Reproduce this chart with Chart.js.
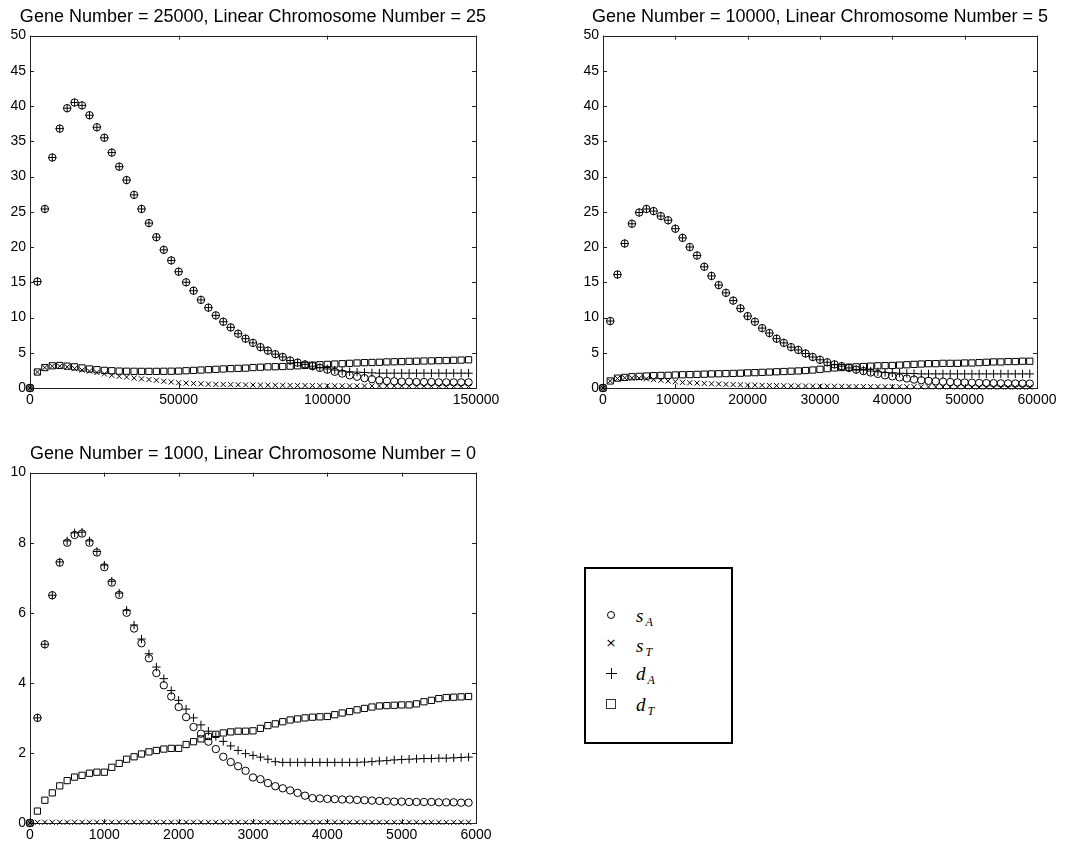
<!DOCTYPE html>
<html>
<head>
<meta charset="utf-8">
<script src="https://cdn.jsdelivr.net/npm/chart.js@4.4.1/dist/chart.umd.min.js"></script>
<style>
body { margin: 0; background: #fff; width: 1078px; height: 847px; overflow: hidden; position: relative; }
canvas { position: absolute; }
#c1 { left: 0; top: 0; }
#c2 { left: 573px; top: 0; }
#c3 { left: 0; top: 437px; }
#key { position: absolute; left: 584px; top: 567px; width: 145px; height: 173px; border: 2px solid #000; }
#key .row { position: absolute; left: 0; width: 100%; height: 20px; }
#key .mk { position: absolute; box-sizing: border-box; }
#key .circ { left: 21px; top: 6px; width: 8px; height: 8px; border: 1px solid #000; border-radius: 50%; }
#key .sq { left: 20px; top: 5px; width: 10px; height: 10px; border: 1px solid #333; }
#key .plus { left: 20px; top: 5px; width: 11px; height: 11px; }
#key .plus::before { content: ""; position: absolute; left: 5px; top: 0; width: 1px; height: 11px; background: #000; }
#key .plus::after { content: ""; position: absolute; left: 0; top: 5px; width: 11px; height: 1px; background: #000; }
#key .txt { position: absolute; left: 19px; top: 0; width: 12px; text-align: center; line-height: 20px; font: 13px "DejaVu Sans"; color: #000; }
#key .lb { position: absolute; left: 50px; top: 0; line-height: 20px; font: italic 19px "Liberation Serif"; color: #000; }
#key .lb sub { font-size: 12px; vertical-align: -4px; line-height: 0; margin-left: 2px; }
</style>
</head>
<body>
<canvas id="c1" width="506" height="420"></canvas>
<canvas id="c2" width="494" height="420"></canvas>
<canvas id="c3" width="506" height="410"></canvas>

<div id="key">
  <div class="row" style="top:36px"><span class="mk circ"></span><span class="lb">s<sub>A</sub></span></div>
  <div class="row" style="top:66px"><span class="txt">&times;</span><span class="lb">s<sub>T</sub></span></div>
  <div class="row" style="top:94px"><span class="mk plus"></span><span class="lb">d<sub>A</sub></span></div>
  <div class="row" style="top:125px"><span class="mk sq"></span><span class="lb">d<sub>T</sub></span></div>
</div>

<script>
// sampling step of each run (x = index * step)
var step1 = 2500, step2 = 1000, step3 = 100;

// Gene Number = 25000, Linear Chromosome Number = 25
var sA1 = [0, 15.1, 25.4, 32.7, 36.8, 39.7, 40.5, 40.1, 38.7, 37.0,
  35.5, 33.4, 31.4, 29.5, 27.4, 25.4, 23.4, 21.4, 19.6, 18.1,
  16.5, 15.0, 13.8, 12.5, 11.4, 10.3, 9.4, 8.6, 7.7, 7.0,
  6.4, 5.8, 5.3, 4.8, 4.4, 3.9, 3.6, 3.35, 3.1, 2.85,
  2.6, 2.3, 2.05, 1.8, 1.6, 1.4, 1.25, 1.1, 1.0, 0.95,
  0.9, 0.9, 0.85, 0.85, 0.85, 0.8, 0.8, 0.8, 0.8, 0.8];
var sT1 = [0, 2.27, 2.9, 3.1, 3.1, 3.0, 2.75, 2.55, 2.4, 2.2,
  2.0, 1.8, 1.65, 1.55, 1.4, 1.3, 1.2, 1.1, 0.95, 0.85,
  0.75, 0.7, 0.65, 0.6, 0.55, 0.52, 0.5, 0.48, 0.46, 0.44,
  0.42, 0.41, 0.4, 0.39, 0.38, 0.37, 0.36, 0.35, 0.34, 0.33,
  0.32, 0.31, 0.31, 0.3, 0.3, 0.29, 0.29, 0.28, 0.28, 0.27,
  0.27, 0.26, 0.26, 0.25, 0.25, 0.24, 0.24, 0.23, 0.23, 0.22];
var dA1 = [0, 15.1, 25.4, 32.7, 36.8, 39.7, 40.5, 40.1, 38.7, 37.0,
  35.5, 33.4, 31.4, 29.5, 27.4, 25.4, 23.4, 21.4, 19.6, 18.1,
  16.5, 15.0, 13.8, 12.5, 11.4, 10.3, 9.4, 8.6, 7.7, 7.0,
  6.4, 5.8, 5.3, 4.8, 4.4, 3.9, 3.6, 3.35, 3.1, 2.9,
  2.7, 2.55, 2.4, 2.3, 2.25, 2.2, 2.15, 2.1, 2.1, 2.1,
  2.1, 2.1, 2.1, 2.1, 2.1, 2.1, 2.1, 2.1, 2.1, 2.1];
var dT1 = [0, 2.27, 2.9, 3.15, 3.2, 3.1, 3.0, 2.85, 2.7, 2.6,
  2.5, 2.45, 2.4, 2.38, 2.37, 2.36, 2.36, 2.36, 2.37, 2.38,
  2.4, 2.45, 2.5, 2.55, 2.6, 2.65, 2.7, 2.75, 2.78, 2.82,
  2.9, 2.95, 3.0, 3.02, 3.05, 3.1, 3.15, 3.2, 3.25, 3.3,
  3.35, 3.4, 3.45, 3.5, 3.55, 3.6, 3.62, 3.65, 3.7, 3.72,
  3.75, 3.78, 3.8, 3.83, 3.85, 3.88, 3.9, 3.93, 3.96, 4.0];

// Gene Number = 10000, Linear Chromosome Number = 5
var sA2 = [0, 9.5, 16.1, 20.5, 23.3, 24.9, 25.4, 25.1, 24.4, 23.8,
  22.6, 21.3, 20.0, 18.8, 17.2, 15.9, 14.6, 13.5, 12.4, 11.3,
  10.2, 9.4, 8.5, 7.8, 7.0, 6.4, 5.8, 5.4, 4.9, 4.4,
  4.0, 3.65, 3.35, 3.1, 2.85, 2.6, 2.4, 2.2, 2.0, 1.8,
  1.65, 1.5, 1.35, 1.2, 1.1, 1.02, 0.95, 0.9, 0.85, 0.8,
  0.78, 0.75, 0.72, 0.7, 0.68, 0.66, 0.65, 0.64, 0.63, 0.62];
var sT2 = [0, 1.0, 1.35, 1.45, 1.45, 1.4, 1.3, 1.2, 1.1, 1.0,
  0.9, 0.8, 0.75, 0.7, 0.65, 0.6, 0.56, 0.52, 0.48, 0.45,
  0.42, 0.4, 0.38, 0.36, 0.34, 0.32, 0.3, 0.29, 0.28, 0.27,
  0.26, 0.25, 0.24, 0.23, 0.22, 0.21, 0.2, 0.2, 0.19, 0.19,
  0.18, 0.18, 0.17, 0.17, 0.16, 0.16, 0.15, 0.15, 0.15, 0.14,
  0.14, 0.14, 0.13, 0.13, 0.13, 0.13, 0.12, 0.12, 0.12, 0.12];
var dA2 = [0, 9.5, 16.1, 20.5, 23.3, 24.9, 25.4, 25.1, 24.4, 23.8,
  22.6, 21.3, 20.0, 18.8, 17.2, 15.9, 14.6, 13.5, 12.4, 11.3,
  10.2, 9.4, 8.5, 7.8, 7.0, 6.4, 5.8, 5.4, 4.9, 4.4,
  4.0, 3.65, 3.35, 3.1, 2.85, 2.6, 2.55, 2.4, 2.3, 2.2,
  2.15, 2.1, 2.07, 2.05, 2.0, 2.0, 2.0, 2.0, 2.0, 2.0,
  2.0, 2.0, 2.0, 2.0, 2.0, 2.0, 2.0, 2.0, 2.0, 2.0];
var dT2 = [0, 1.0, 1.4, 1.5, 1.6, 1.65, 1.7, 1.75, 1.78, 1.8,
  1.85, 1.88, 1.9, 1.93, 1.96, 2.0, 2.02, 2.05, 2.07, 2.1,
  2.15, 2.18, 2.22, 2.26, 2.3, 2.34, 2.38, 2.42, 2.48, 2.55,
  2.65, 2.75, 2.85, 2.9, 2.95, 3.0, 3.05, 3.1, 3.15, 3.17,
  3.2, 3.25, 3.3, 3.35, 3.4, 3.45, 3.45, 3.5, 3.5, 3.5,
  3.55, 3.55, 3.6, 3.65, 3.7, 3.7, 3.75, 3.75, 3.8, 3.8];

// Gene Number = 1000, Linear Chromosome Number = 0
var sA3 = [0, 3.0, 5.1, 6.5, 7.43, 8.0, 8.22, 8.26, 8.0, 7.72,
  7.3, 6.86, 6.51, 6.0, 5.55, 5.13, 4.7, 4.28, 3.93, 3.61,
  3.31, 3.02, 2.74, 2.55, 2.32, 2.11, 1.89, 1.74, 1.62, 1.49,
  1.3, 1.25, 1.14, 1.05, 0.99, 0.93, 0.86, 0.78, 0.71, 0.70,
  0.69, 0.68, 0.67, 0.67, 0.66, 0.65, 0.64, 0.63, 0.62, 0.61,
  0.61, 0.6, 0.6, 0.6, 0.6, 0.59, 0.59, 0.59, 0.58, 0.58];
var sT3 = [0, 0.02, 0.02, 0.02, 0.02, 0.02, 0.02, 0.02, 0.02, 0.02,
  0.02, 0.02, 0.02, 0.02, 0.02, 0.02, 0.02, 0.02, 0.02, 0.02,
  0.02, 0.02, 0.02, 0.02, 0.02, 0.02, 0.02, 0.02, 0.02, 0.02,
  0.02, 0.02, 0.02, 0.02, 0.02, 0.02, 0.02, 0.02, 0.02, 0.02,
  0.02, 0.02, 0.02, 0.02, 0.02, 0.02, 0.02, 0.02, 0.02, 0.02,
  0.02, 0.02, 0.02, 0.02, 0.02, 0.02, 0.02, 0.02, 0.02, 0.02];
var dA3 = [0, 3.0, 5.1, 6.5, 7.45, 8.05, 8.28, 8.3, 8.05, 7.75,
  7.36, 6.9, 6.56, 6.07, 5.65, 5.25, 4.83, 4.45, 4.12, 3.78,
  3.5, 3.25, 3.0, 2.8, 2.62, 2.47, 2.33, 2.2, 2.07, 1.98,
  1.93, 1.88, 1.82, 1.75, 1.73, 1.73, 1.73, 1.73, 1.73, 1.73,
  1.73, 1.73, 1.73, 1.73, 1.73, 1.74, 1.75, 1.77, 1.78, 1.8,
  1.81, 1.82, 1.83, 1.84, 1.84, 1.85, 1.85, 1.86, 1.87, 1.88];
var dT3 = [0, 0.34, 0.65, 0.86, 1.06, 1.21, 1.31, 1.36, 1.42, 1.45,
  1.45, 1.59, 1.70, 1.82, 1.89, 1.97, 2.03, 2.07, 2.11, 2.13,
  2.13, 2.24, 2.32, 2.40, 2.47, 2.53, 2.57, 2.60, 2.62, 2.62,
  2.63, 2.70, 2.78, 2.83, 2.89, 2.94, 2.97, 3.0, 3.02, 3.03,
  3.04, 3.09, 3.14, 3.18, 3.23, 3.27, 3.31, 3.34, 3.35, 3.36,
  3.37, 3.37, 3.40, 3.46, 3.5, 3.55, 3.58, 3.59, 3.60, 3.61];

// tick labels
var xTicks1 = [0, 50000, 100000, 150000];
var xTicks2 = [0, 10000, 20000, 30000, 40000, 50000, 60000];
var xTicks3 = [0, 1000, 2000, 3000, 4000, 5000, 6000];
var yTicks1 = [0, 5, 10, 15, 20, 25, 30, 35, 40, 45, 50];
var yTicks3 = [0, 2, 4, 6, 8, 10];

var FONT = 'Liberation Sans';

// box round the plot + inward ticks (matlab look)
var framePlugin = {
  id: 'frame',
  beforeDatasetsDraw: function (chart) {
    var ctx = chart.ctx, a = chart.chartArea, sx = chart.scales.x, sy = chart.scales.y;
    ctx.save();
    ctx.strokeStyle = '#222';
    ctx.lineWidth = 1;
    ctx.beginPath();
    sx.ticks.forEach(function (t) {
      var px = Math.round(sx.getPixelForValue(t.value)) + 0.5;
      ctx.moveTo(px, a.bottom); ctx.lineTo(px, a.bottom - 4);
      ctx.moveTo(px, a.top); ctx.lineTo(px, a.top + 4);
    });
    sy.ticks.forEach(function (t) {
      var py = Math.round(sy.getPixelForValue(t.value)) + 0.5;
      ctx.moveTo(a.left, py); ctx.lineTo(a.left + 4, py);
      ctx.moveTo(a.right, py); ctx.lineTo(a.right - 4, py);
    });
    ctx.stroke();
    ctx.strokeRect(Math.round(a.left) + 0.5, Math.round(a.top) + 0.5, Math.round(a.width), Math.round(a.height));
    ctx.restore();
  }
};

function points(step, vals) {
  return vals.map(function (v, i) { return { x: i * step, y: v }; });
}

function makeChart(id, title, step, sA, sT, dA, dT, xMax, xTicks, yMax, yTicks, xAxisH) {
  var ctx = document.getElementById(id).getContext('2d');
  var base = { showLine: false, borderColor: '#000', backgroundColor: 'rgba(0,0,0,0)', pointBorderWidth: 1, clip: false };
  return new Chart(ctx, {
    type: 'scatter',
    data: {
      datasets: [
        Object.assign({ label: 'sA', data: points(step, sA), pointStyle: 'circle', pointRadius: 3.7 }, base),
        Object.assign({ label: 'sT', data: points(step, sT), pointStyle: 'crossRot', pointRadius: 3.6 }, base),
        Object.assign({ label: 'dA', data: points(step, dA), pointStyle: 'cross', pointRadius: 4.2 }, base),
        Object.assign({ label: 'dT', data: points(step, dT), pointStyle: 'rect', pointRadius: 4.4 }, base)
      ]
    },
    options: {
      responsive: false,
      animation: false,
      devicePixelRatio: 1,
      layout: { padding: 0 },
      plugins: {
        legend: { display: false },
        tooltip: { enabled: false },
        title: {
          display: true,
          text: title,
          color: '#000',
          font: { family: FONT, size: 18, weight: 'normal' },
          padding: { top: 6, bottom: 8 }
        }
      },
      scales: {
        x: {
          type: 'linear', min: 0, max: xMax,
          afterBuildTicks: function (s) { s.ticks = xTicks.map(function (v) { return { value: v }; }); },
          afterFit: function (s) { s.height = xAxisH; },
          grid: { display: false, drawTicks: false },
          border: { display: false },
          ticks: { padding: 4, color: '#000', maxRotation: 0, autoSkip: false,
            font: { family: FONT, size: 14 }, callback: function (v) { return String(v); } }
        },
        y: {
          type: 'linear', min: 0, max: yMax,
          afterBuildTicks: function (s) { s.ticks = yTicks.map(function (v) { return { value: v }; }); },
          afterFit: function (s) { s.width = 30; },
          grid: { display: false, drawTicks: false },
          border: { display: false },
          ticks: { padding: 4, color: '#000', autoSkip: false,
            font: { family: FONT, size: 14 }, callback: function (v) { return String(v); } }
        },
        // empty right-hand axis, only keeps the plot centred under the title
        yR: {
          type: 'linear', position: 'right', min: 0, max: 1,
          afterFit: function (s) { s.width = 30; },
          grid: { display: false, drawTicks: false },
          border: { display: false },
          ticks: { display: false }
        }
      }
    },
    plugins: [framePlugin]
  });
}

makeChart('c1', 'Gene Number = 25000, Linear Chromosome Number = 25', step1, sA1, sT1, dA1, dT1, 150000, xTicks1, 50, yTicks1, 32);
makeChart('c2', 'Gene Number = 10000, Linear Chromosome Number = 5', step2, sA2, sT2, dA2, dT2, 60000, xTicks2, 50, yTicks1, 32);
makeChart('c3', 'Gene Number = 1000, Linear Chromosome Number = 0', step3, sA3, sT3, dA3, dT3, 6000, xTicks3, 10, yTicks3, 24);
</script>
</body>
</html>
